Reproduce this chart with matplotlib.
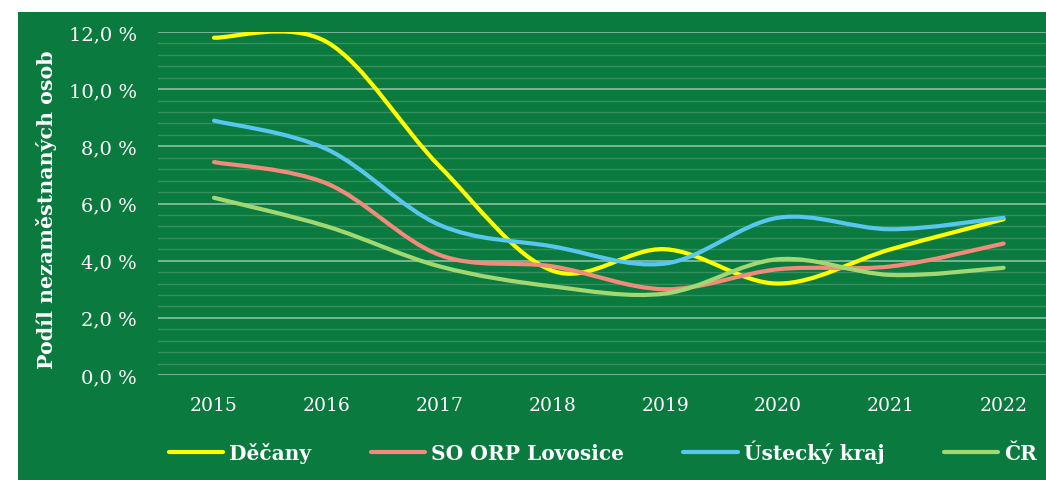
import numpy as np
import matplotlib
matplotlib.use("Agg")
import matplotlib.pyplot as plt
from matplotlib.path import Path
from matplotlib.patches import PathPatch, Rectangle
from matplotlib.lines import Line2D
from matplotlib.ticker import MultipleLocator, FuncFormatter

years = ["2015", "2016", "2017", "2018", "2019", "2020", "2021", "2022"]

decany = [11.8, 11.65, 7.3, 3.65, 4.4, 3.2, 4.4, 5.45]
lovosice = [7.45, 6.7, 4.2, 3.8, 3.0, 3.7, 3.8, 4.6]
ustecky = [8.9, 7.9, 5.25, 4.5, 3.9, 5.5, 5.1, 5.5]
cr = [6.2, 5.2, 3.8, 3.1, 2.85, 4.05, 3.5, 3.75]

series_names = ["Děčany", "SO ORP Lovosice", "Ústecký kraj", "ČR"]
series_values = [decany, lovosice, ustecky, cr]
series_colors = ["#FFFF00", "#F28B7B", "#58C6EE", "#A2D872"]

bg_green = "#0B7A3E"


def smooth_path(xs, ys):
    """Bezier path through the points, like the smoothed lines in Excel."""
    pts = np.column_stack([xs, ys]).astype(float)
    n = len(pts)
    verts = [pts[0]]
    codes = [Path.MOVETO]
    for i in range(n - 1):
        p_prev = pts[max(i - 1, 0)]
        p0 = pts[i]
        p1 = pts[i + 1]
        p_next = pts[min(i + 2, n - 1)]
        c1 = p0 + (p1 - p_prev) / 6
        c2 = p1 - (p_next - p0) / 6
        verts += [c1, c2, p1]
        codes += [Path.CURVE4] * 3
    return Path(verts, codes)


W, H = 1046, 481
fig = plt.figure(figsize=(W / 100, H / 100), dpi=100)
fig.patch.set_facecolor("white")
fig.patches.append(Rectangle((18 / W, 0), 1, 1 - 13 / H, transform=fig.transFigure,
                             facecolor=bg_green, edgecolor="none", zorder=-10))

ax = fig.add_axes([157.6 / W, (H - 376) / H, (1060 - 157.6) / W, 343 / H])
ax.set_facecolor("none")
for s in ax.spines.values():
    s.set_visible(False)

x = np.arange(len(years))
for name, vals, col in zip(series_names, series_values, series_colors):
    patch = PathPatch(smooth_path(x, vals), fill=False, edgecolor=col, lw=3.0,
                      capstyle="round", joinstyle="round", zorder=3)
    ax.add_patch(patch)

ax.set_xlim(-0.5, len(years) - 0.5)
ax.set_ylim(0, 12)
ax.set_xticks(x)
ax.set_xticklabels(years)

ax.yaxis.set_major_locator(MultipleLocator(2))
ax.yaxis.set_minor_locator(MultipleLocator(0.4))
ax.yaxis.set_major_formatter(FuncFormatter(lambda v, p: f"{v:.1f} %".replace(".", ",")))
ax.grid(axis="y", which="major", color="white", alpha=0.45, lw=1.4, zorder=1)
ax.grid(axis="y", which="minor", color="white", alpha=0.17, lw=1.0, zorder=1)
ax.tick_params(axis="both", which="both", length=0)
ax.tick_params(axis="y", pad=15, labelsize=14, labelcolor="white")
ax.tick_params(axis="x", pad=15, labelsize=13.5, labelcolor="white")
for lab in ax.get_xticklabels() + ax.get_yticklabels():
    lab.set_family("DejaVu Serif")

fig.text(47 / W, 1 - 210 / H, "Podíl nezaměstnaných osob", rotation=90,
         ha="center", va="center", color="white", fontsize=14.8, fontweight="bold",
         family="DejaVu Serif")

handles = [Line2D([], [], color=c, lw=3.0, solid_capstyle="round") for c in series_colors]
leg = fig.legend(handles, series_names, loc="center", bbox_to_anchor=(603 / W, 1 - 452 / H),
                 ncol=4, frameon=False, handlelength=2.7, handletextpad=0.3,
                 columnspacing=2.95, prop={"family": "DejaVu Serif", "weight": "bold", "size": 14.5})
for t in leg.get_texts():
    t.set_color("white")

fig.savefig("out.png", dpi=100)
